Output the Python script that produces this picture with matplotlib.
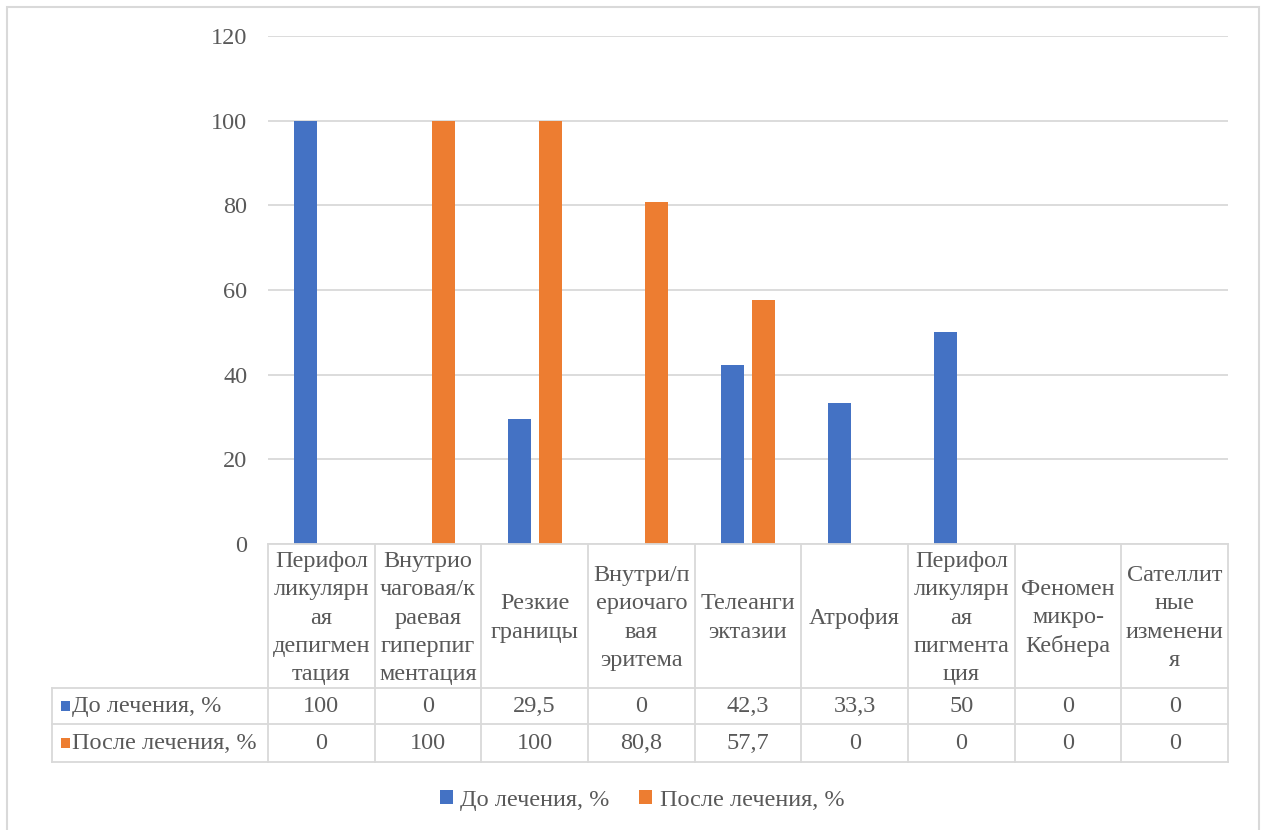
import matplotlib.pyplot as plt
from matplotlib.lines import Line2D
from matplotlib.patches import Rectangle, Patch

plt.rcParams['font.family'] = ['Liberation Serif', 'DejaVu Serif']

categories = [
    "Перифол\nликулярн\nая\nдепигмен\nтация",
    "Внутрио\nчаговая/к\nраевая\nгиперпиг\nментация",
    "Резкие\nграницы",
    "Внутри/п\nериочаго\nвая\nэритема",
    "Телеанги\nэктазии",
    "Атрофия",
    "Перифол\nликулярн\nая\nпигмента\nция",
    "Феномен\nмикро-\nКебнера",
    "Сателлит\nные\nизменени\nя",
]
before = [100, 0, 29.5, 0, 42.3, 33.3, 50, 0, 0]
after = [0, 100, 100, 80.8, 57.7, 0, 0, 0, 0]
series_names = ["До лечения, %", "После лечения, %"]

blue = "#4472c4"
orange = "#ed7d31"
grid_c = "#d9d9d9"
text_c = "#595959"
fs = 17.5

W, H = 1262, 830
fig = plt.figure(figsize=(W / 100, H / 100), dpi=100)


def fx(px):
    return px / W


def fy(py):
    return 1 - py / H


def hline(y, x0, x1, lw=1.3):
    fig.add_artist(Line2D([fx(x0), fx(x1)], [fy(y), fy(y)], color=grid_c, lw=lw))


def vline(x, y0, y1, lw=1.3):
    fig.add_artist(Line2D([fx(x), fx(x)], [fy(y0), fy(y1)], color=grid_c, lw=lw))


# outer chart border
fig.add_artist(Rectangle((fx(7), fy(840)), fx(1252), 840 / H - 7 / H,
                         fill=False, edgecolor=grid_c, lw=1.5))

left, right, top, bottom = 268, 1228, 36, 544
ax = fig.add_axes([fx(left), fy(bottom), fx(right - left), (bottom - top) / H])

n = len(categories)
x = list(range(n))
bw = 0.216
off = 0.145
ax.bar([i - off for i in x], before, width=bw, color=blue, zorder=3)
ax.bar([i + off for i in x], after, width=bw, color=orange, zorder=3)

ax.set_xlim(-0.5, n - 0.5)
ax.set_ylim(0, 120)
ax.set_yticks(range(0, 121, 20))
ax.set_xticks([])
ax.tick_params(axis='y', length=0, pad=15, labelsize=fs, labelcolor=text_c)
ax.grid(axis='y', color=grid_c, lw=1.3, zorder=0)
for s in ax.spines.values():
    s.set_visible(False)

# data table under the axis
col_w = (right - left) / n
row1, row2, row3 = 688, 724, 762
tab_left = 52
hline(bottom, left, right)
hline(row1, tab_left, right)
hline(row2, tab_left, right)
hline(row3, tab_left, right)
for i in range(n + 1):
    vline(left + i * col_w, bottom, row3)
vline(tab_left, row1, row3)

for i, name in enumerate(categories):
    cx = left + (i + 0.5) * col_w
    fig.text(fx(cx), fy((bottom + row1) / 2 + 2), name, ha='center', va='center',
             fontsize=fs, color=text_c, linespacing=1.45)


def fmt(v):
    return f"{v:g}".replace('.', ',')


rows = [(before, blue, row1, row2), (after, orange, row2, row3)]
for (vals, col, y0, y1), label in zip(rows, series_names):
    cy = (y0 + y1) / 2
    fig.add_artist(Rectangle((fx(61), fy(cy + 5)), fx(9), 10 / H,
                             facecolor=col, edgecolor='none'))
    fig.text(fx(72), fy(cy), label, ha='left', va='center',
             fontsize=fs, color=text_c)
    for i, v in enumerate(vals):
        cx = left + (i + 0.5) * col_w
        fig.text(fx(cx), fy(cy), fmt(v), ha='center', va='center',
                 fontsize=fs, color=text_c)

handles = [Patch(facecolor=blue), Patch(facecolor=orange)]
fig.legend(handles, series_names, loc='center', bbox_to_anchor=(fx(642), fy(800)),
           ncol=2, frameon=False, fontsize=fs, labelcolor=text_c,
           handlelength=0.55, handleheight=0.55, handletextpad=0.3, columnspacing=1.2)

fig.savefig("out.png", dpi=100)
